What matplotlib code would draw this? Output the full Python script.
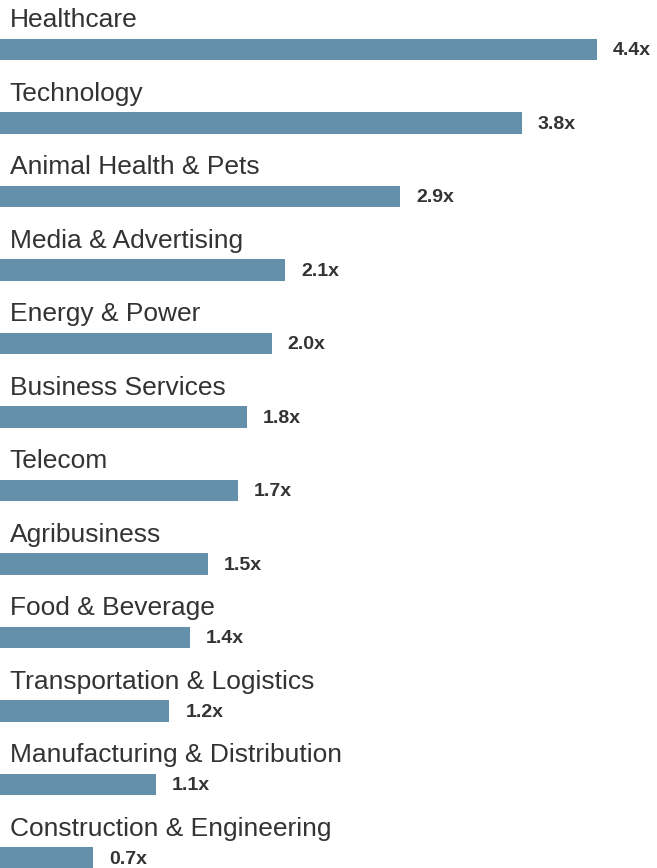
import matplotlib.pyplot as plt

plt.rcParams['font.family'] = ['Liberation Sans', 'DejaVu Sans']

sectors = ['Healthcare', 'Technology', 'Animal Health & Pets', 'Media & Advertising',
           'Energy & Power', 'Business Services', 'Telecom', 'Agribusiness',
           'Food & Beverage', 'Transportation & Logistics',
           'Manufacturing & Distribution', 'Construction & Engineering']
multiples = [4.37, 3.82, 2.93, 2.09, 1.99, 1.81, 1.74, 1.52, 1.39, 1.24, 1.14, 0.68]

bar_color = '#6490ab'
text_color = '#333333'

fig = plt.figure(figsize=(6.57, 8.68), dpi=100)
ax = fig.add_axes([0, 0, 1, 1])

rows = list(range(len(sectors)))
ax.barh(rows, multiples, height=0.29, color=bar_color, align='center')

for i, (name, val) in enumerate(zip(sectors, multiples)):
    ax.text(0.07, i - 0.40, name, fontsize=19, color=text_color,
            ha='left', va='center')
    ax.annotate(f'{val:.1f}x', xy=(val, i), xytext=(11.5, -1),
                textcoords='offset points', fontsize=14, fontweight='bold',
                color=text_color, ha='left', va='center')

ax.set_xlim(0, 4.81)
ax.set_ylim(11.136, -0.673)
ax.axis('off')

plt.savefig('out.png', dpi=100)
